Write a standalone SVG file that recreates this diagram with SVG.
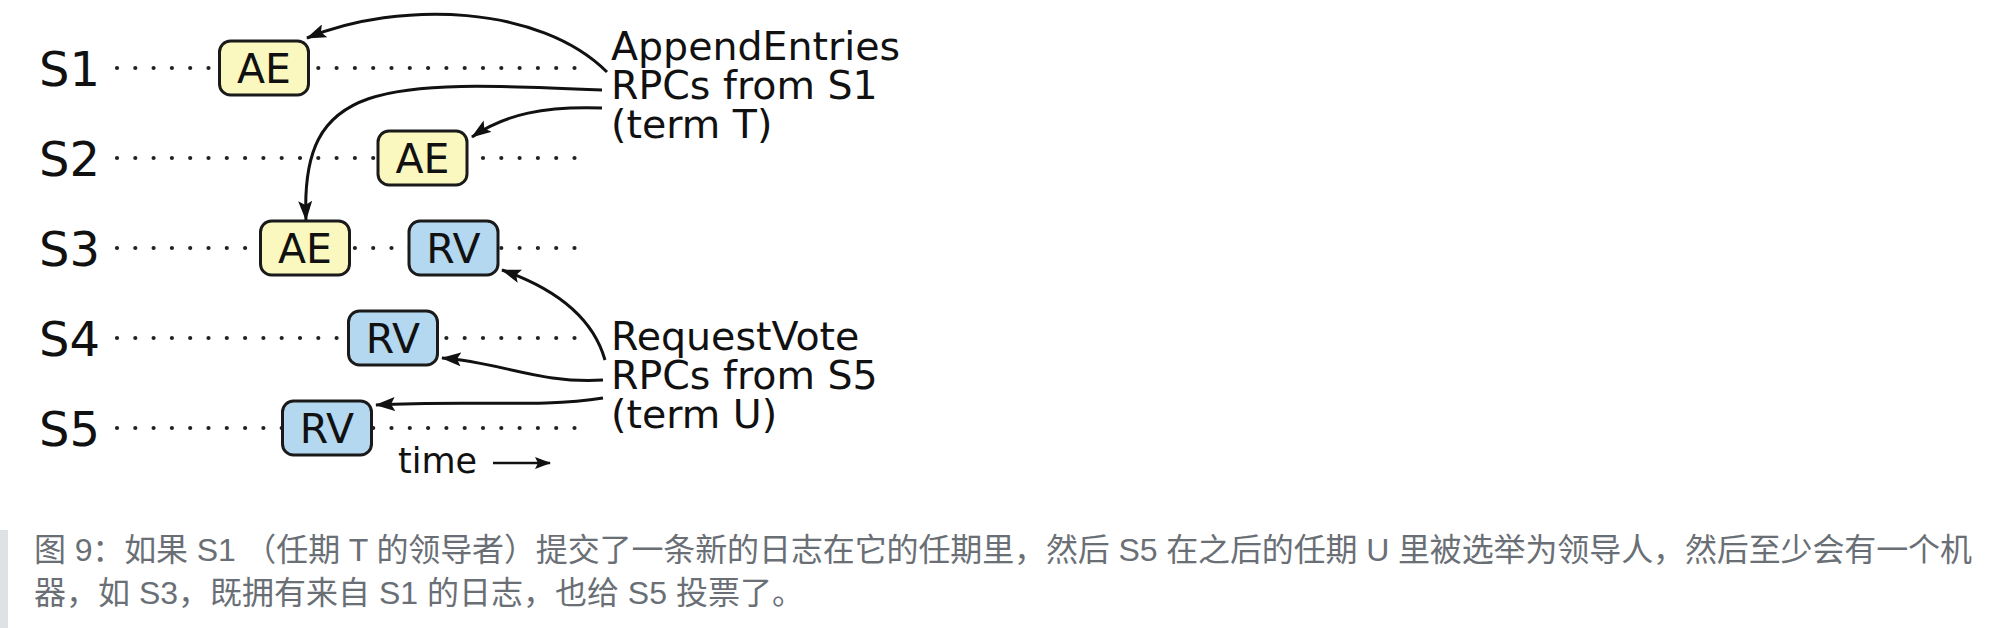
<svg xmlns="http://www.w3.org/2000/svg" width="1996" height="628" viewBox="0 0 1996 628">
<style>
.lbl{font-family:"DejaVu Sans",sans-serif;fill:#111}
.srv{font-size:48px}
.box text{font-family:"DejaVu Sans",sans-serif;font-size:41px;fill:#111;text-anchor:middle}
.ae rect{fill:#fbf8bf;stroke:#1a1a1a;stroke-width:3}
.rv rect{fill:#b3d8ef;stroke:#1a1a1a;stroke-width:3}
.dots{stroke:#222;stroke-width:4.2;stroke-linecap:round;stroke-dasharray:0 18.3;fill:none}
.note{font-size:39.5px}
.conn path{fill:none;stroke:#111;stroke-width:3}
.cap{font-family:"Liberation Sans","Noto Sans CJK SC",sans-serif;font-size:32px;fill:#6a6f76}
</style>
<defs>
<marker id="ah" viewBox="0 0 20 14" refX="19" refY="7" markerWidth="20" markerHeight="14" markerUnits="userSpaceOnUse" orient="auto">
<path d="M0,0 L20,7 L0,14 L4,7 Z" fill="#111"/>
</marker>
<marker id="ahs" viewBox="0 0 16 12" refX="15" refY="6" markerWidth="16" markerHeight="12" markerUnits="userSpaceOnUse" orient="auto">
<path d="M0,0 L16,6 L0,12 L3,6 Z" fill="#111"/>
</marker>
</defs>
<rect width="1996" height="628" fill="#fff"/>

<g id="timelines">
<path class="dots" d="M117,68 H587"/>
<path class="dots" d="M117,158 H587"/>
<path class="dots" d="M117,248 H587"/>
<path class="dots" d="M117,338 H587"/>
<path class="dots" d="M117,428 H587"/>
</g>

<g id="servers" class="lbl srv">
<text x="39" y="86">S1</text>
<text x="39" y="176">S2</text>
<text x="39" y="266">S3</text>
<text x="39" y="356">S4</text>
<text x="39" y="446">S5</text>
</g>

<g id="s1-ae" class="box ae"><rect x="219.5" y="41" width="89" height="54" rx="11"/><text x="264" y="83">AE</text></g>
<g id="s2-ae" class="box ae"><rect x="378" y="131" width="89" height="54" rx="11"/><text x="422.5" y="173">AE</text></g>
<g id="s3-ae" class="box ae"><rect x="260.5" y="221" width="89" height="54" rx="11"/><text x="305" y="263">AE</text></g>
<g id="s3-rv" class="box rv"><rect x="409" y="221" width="89" height="54" rx="11"/><text x="453.5" y="263">RV</text></g>
<g id="s4-rv" class="box rv"><rect x="348.5" y="311" width="89" height="54" rx="11"/><text x="393" y="353">RV</text></g>
<g id="s5-rv" class="box rv"><rect x="282.5" y="401" width="89" height="54" rx="11"/><text x="327" y="443">RV</text></g>

<g id="ae-label" class="lbl note">
<text x="611" y="60">AppendEntries</text>
<text x="611" y="99">RPCs from S1</text>
<text x="611" y="138">(term T)</text>
</g>
<g id="rv-label" class="lbl note">
<text x="611" y="350">RequestVote</text>
<text x="611" y="389">RPCs from S5</text>
<text x="611" y="428">(term U)</text>
</g>
<g id="time-label" class="lbl">
<text x="398" y="473" style="font-size:35px">time</text>
</g>

<g id="connectors" class="conn">
<path d="M607,72 C540,5 400,0 307,38" marker-end="url(#ah)"/>
<path d="M602,90 C380,80 300,80 306,220" marker-end="url(#ah)"/>
<path d="M602,108 C545,106 505,114 472,137" marker-end="url(#ah)"/>
<path d="M605,360 C595,325 565,292 502,270" marker-end="url(#ah)"/>
<path d="M603,380 C540,384 500,362 442,358" marker-end="url(#ah)"/>
<path d="M603,398 C540,408 470,400 376,405" marker-end="url(#ah)"/>
<path d="M493,463 H550" marker-end="url(#ahs)" style="stroke-width:2.5"/>
</g>

<g id="caption">
<rect x="0" y="530" width="8" height="98" fill="#dfe2e5"/>
<text class="cap" x="34" y="561" textLength="1938" lengthAdjust="spacing">图 9：如果 S1 （任期 T 的领导者）提交了一条新的日志在它的任期里，然后 S5 在之后的任期 U 里被选举为领导人，然后至少会有一个机</text>
<text class="cap" x="34" y="604">器，如 S3，既拥有来自 S1 的日志，也给 S5 投票了。</text>
</g>
</svg>
